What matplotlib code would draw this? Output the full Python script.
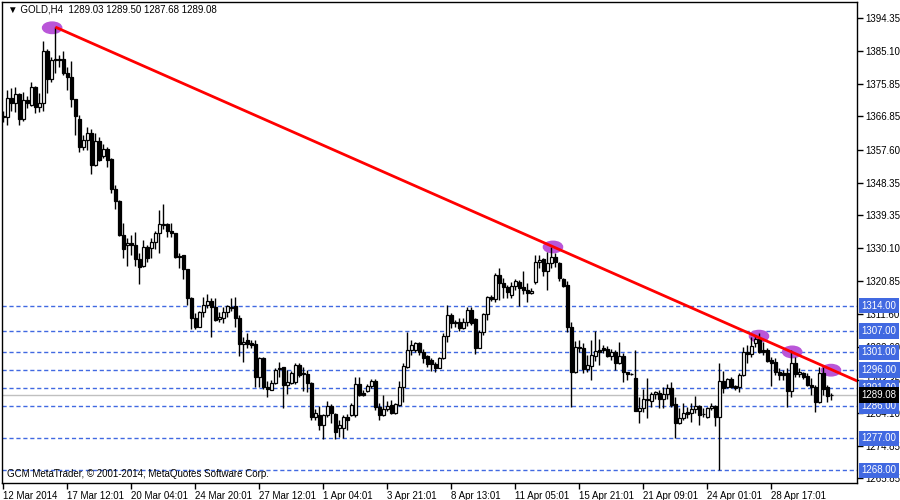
import matplotlib.pyplot as plt
from matplotlib.patches import Ellipse

# GOLD H4 candles (oldest first)
opens = [
    1367.0, 1366.6, 1372.0, 1370.6, 1373.1, 1366.1, 1371.4, 1370.0, 1375.0, 1369.5,
    1370.6, 1385.1, 1377.3, 1382.6, 1382.9, 1382.9, 1379.0, 1377.9, 1371.7, 1366.1,
    1358.3, 1360.3, 1362.2, 1353.3, 1360.0, 1355.8, 1357.8, 1355.0, 1346.6, 1343.2,
    1333.7, 1330.9, 1331.5, 1330.9, 1327.0, 1325.1, 1330.4, 1330.1, 1331.8, 1334.3,
    1336.5, 1336.8, 1334.8, 1334.3, 1327.9, 1328.1, 1324.2, 1316.1, 1310.5, 1308.0,
    1312.2, 1314.2, 1315.3, 1313.6, 1310.3, 1310.5, 1312.2, 1313.6, 1313.9, 1310.5,
    1303.3, 1304.4, 1303.6, 1303.3, 1294.1, 1299.4, 1291.3, 1290.4, 1292.4, 1296.3,
    1296.9, 1291.8, 1292.4, 1292.7, 1297.4, 1295.2, 1294.9, 1292.4, 1282.9, 1283.5,
    1280.7, 1283.5, 1286.0, 1283.8, 1279.8, 1279.8, 1282.9, 1283.5, 1283.5, 1292.1,
    1289.6, 1290.2, 1291.6, 1293.0, 1285.7, 1283.5, 1285.1, 1286.3, 1284.0, 1286.3,
    1291.3, 1296.9, 1301.6, 1301.6, 1303.6, 1301.1, 1300.0, 1298.8, 1297.7, 1296.6,
    1299.4, 1305.5, 1311.4, 1309.4, 1309.4, 1307.8, 1309.4, 1312.8, 1310.3, 1302.2,
    1306.6, 1311.7, 1316.4, 1315.9, 1322.6, 1320.3, 1319.2, 1317.0, 1319.5, 1320.6,
    1319.2, 1318.4, 1317.5, 1320.6, 1326.2, 1327.0, 1323.7, 1325.9, 1327.6, 1325.9,
    1321.4, 1319.8, 1308.0, 1295.5, 1302.5, 1302.2, 1296.3, 1297.1, 1299.9, 1301.6,
    1302.2, 1301.9, 1299.9, 1301.1, 1298.0, 1299.9, 1295.5, 1294.9, 1293.8, 1284.6,
    1285.4, 1287.6, 1287.4, 1289.3, 1289.6, 1287.9, 1289.3, 1291.0, 1286.5, 1281.2,
    1282.6, 1284.3, 1284.0, 1285.1, 1286.0, 1283.8, 1282.9, 1285.4, 1286.0, 1282.9,
    1293.0, 1291.3, 1293.5, 1291.6, 1291.3, 1294.6, 1301.1, 1300.5, 1303.6, 1304.7,
    1301.6, 1301.6, 1298.8, 1298.3, 1295.5, 1295.2, 1295.2, 1290.2, 1298.0, 1294.9,
    1295.2, 1294.3, 1291.8, 1291.3, 1287.1, 1295.2, 1291.3, 1289.03,
]
highs = [
    1368.3, 1374.2, 1374.8, 1375.0, 1373.4, 1373.6, 1372.6, 1376.4, 1375.3, 1373.4,
    1387.9, 1385.7, 1383.4, 1391.8, 1384.0, 1385.1, 1380.7, 1382.3, 1371.7, 1367.2,
    1361.7, 1363.9, 1363.3, 1362.2, 1361.1, 1359.2, 1358.3, 1355.2, 1347.7, 1343.5,
    1337.1, 1332.9, 1333.7, 1334.6, 1328.7, 1332.3, 1330.9, 1332.9, 1334.8, 1340.7,
    1342.4, 1337.1, 1337.1, 1334.3, 1328.7, 1328.1, 1324.2, 1316.4, 1311.9, 1312.5,
    1316.4, 1317.3, 1316.1, 1316.1, 1312.2, 1313.6, 1314.2, 1316.1, 1316.4, 1311.4,
    1305.2, 1306.4, 1304.4, 1304.4, 1299.7, 1299.7, 1293.0, 1293.2, 1296.6, 1298.3,
    1296.9, 1296.0, 1295.7, 1298.0, 1298.0, 1296.9, 1296.0, 1292.7, 1285.1, 1286.0,
    1283.8, 1287.4, 1286.5, 1284.0, 1282.1, 1283.5, 1283.8, 1286.8, 1294.1, 1294.1,
    1290.4, 1292.1, 1293.5, 1293.5, 1286.8, 1289.0, 1287.4, 1287.6, 1286.8, 1293.0,
    1298.0, 1306.6, 1304.4, 1303.8, 1303.8, 1301.9, 1300.2, 1299.4, 1298.3, 1299.7,
    1306.4, 1314.2, 1312.0, 1310.0, 1310.6, 1310.6, 1313.6, 1313.6, 1310.6, 1307.2,
    1312.0, 1316.7, 1317.0, 1323.1, 1324.5, 1321.7, 1319.8, 1320.6, 1321.4, 1321.2,
    1323.7, 1320.3, 1318.9, 1328.1, 1328.1, 1327.3, 1329.0, 1330.4, 1328.7, 1326.2,
    1321.7, 1320.9, 1309.4, 1304.1, 1304.4, 1303.6, 1300.2, 1304.4, 1306.9, 1304.7,
    1303.0, 1302.7, 1301.9, 1301.6, 1303.8, 1300.8, 1295.5, 1295.2, 1301.6, 1288.5,
    1290.7, 1293.8, 1289.9, 1290.2, 1290.4, 1291.3, 1292.1, 1292.7, 1288.5, 1285.4,
    1286.8, 1285.7, 1286.8, 1288.8, 1286.3, 1285.4, 1285.7, 1286.8, 1286.3, 1298.0,
    1295.7, 1293.8, 1294.1, 1291.8, 1295.2, 1302.5, 1303.0, 1305.2, 1305.8, 1306.4,
    1303.8, 1302.2, 1299.7, 1299.4, 1296.6, 1296.0, 1296.6, 1301.6, 1299.7, 1296.6,
    1295.5, 1295.2, 1293.8, 1291.8, 1296.9, 1296.9, 1291.8, 1289.50,
]
lows = [
    1365.3, 1364.5, 1368.3, 1368.1, 1364.5, 1365.6, 1369.2, 1369.7, 1367.8, 1368.1,
    1368.3, 1373.4, 1376.4, 1379.0, 1380.7, 1378.4, 1374.2, 1369.5, 1361.7, 1356.9,
    1357.5, 1357.5, 1350.8, 1353.0, 1354.4, 1355.2, 1352.7, 1345.5, 1341.0, 1333.4,
    1327.3, 1325.1, 1328.1, 1325.1, 1320.1, 1324.8, 1326.2, 1327.3, 1329.8, 1328.7,
    1335.4, 1333.2, 1333.2, 1327.3, 1324.5, 1321.4, 1314.2, 1307.5, 1307.5, 1308.0,
    1310.8, 1313.3, 1305.2, 1309.7, 1309.4, 1309.1, 1310.8, 1312.5, 1308.0, 1300.0,
    1298.3, 1302.2, 1302.2, 1291.3, 1291.3, 1290.7, 1288.5, 1290.4, 1292.1, 1294.1,
    1285.4, 1289.3, 1292.1, 1292.1, 1294.1, 1290.2, 1289.9, 1282.1, 1282.1, 1279.3,
    1276.8, 1282.9, 1281.2, 1276.8, 1277.3, 1277.0, 1279.3, 1283.2, 1282.9, 1288.8,
    1288.8, 1289.9, 1291.0, 1284.9, 1282.1, 1283.2, 1284.6, 1283.8, 1283.8, 1286.0,
    1287.1, 1296.6, 1300.2, 1301.1, 1300.2, 1298.0, 1296.9, 1295.7, 1295.5, 1296.6,
    1299.1, 1303.8, 1307.8, 1308.0, 1306.9, 1307.5, 1308.3, 1308.6, 1300.5, 1302.2,
    1305.8, 1310.0, 1315.3, 1315.0, 1315.6, 1316.1, 1316.1, 1316.1, 1318.4, 1313.9,
    1317.3, 1315.0, 1317.3, 1320.1, 1324.5, 1322.3, 1318.4, 1324.5, 1324.8, 1320.9,
    1319.2, 1306.6, 1285.7, 1295.2, 1301.1, 1295.2, 1295.5, 1293.2, 1298.5, 1297.4,
    1300.8, 1299.7, 1298.8, 1296.0, 1297.7, 1292.7, 1293.2, 1294.6, 1284.6, 1281.2,
    1284.3, 1282.6, 1285.7, 1288.0, 1285.4, 1285.4, 1288.0, 1285.7, 1277.0, 1281.0,
    1282.1, 1282.6, 1281.5, 1284.0, 1280.7, 1282.9, 1282.6, 1284.9, 1280.4, 1268.1,
    1289.6, 1291.0, 1291.0, 1290.4, 1289.9, 1294.3, 1298.0, 1299.7, 1302.5, 1300.8,
    1300.2, 1298.3, 1291.6, 1294.6, 1293.2, 1293.2, 1285.7, 1288.5, 1294.1, 1294.1,
    1293.5, 1291.6, 1289.0, 1284.3, 1286.8, 1289.0, 1287.1, 1287.68,
]
closes = [
    1366.8, 1372.0, 1370.6, 1373.1, 1366.1, 1371.4, 1370.6, 1375.0, 1369.5, 1370.6,
    1385.1, 1377.3, 1382.6, 1382.9, 1382.6, 1379.0, 1377.9, 1371.7, 1367.0, 1358.3,
    1360.3, 1362.2, 1353.3, 1360.0, 1354.7, 1357.8, 1354.7, 1346.6, 1343.2, 1333.7,
    1329.8, 1331.5, 1330.9, 1327.0, 1324.8, 1330.4, 1327.3, 1331.8, 1334.3, 1336.8,
    1336.8, 1334.8, 1334.3, 1327.6, 1327.6, 1324.2, 1316.1, 1310.5, 1308.0, 1312.2,
    1314.2, 1315.3, 1313.6, 1310.0, 1310.8, 1312.2, 1313.9, 1313.5, 1310.5, 1303.3,
    1303.8, 1303.3, 1303.0, 1294.1, 1299.4, 1291.3, 1290.7, 1292.4, 1296.0, 1296.6,
    1291.8, 1292.7, 1295.2, 1297.4, 1294.6, 1294.9, 1292.4, 1282.9, 1284.0, 1280.7,
    1283.5, 1286.0, 1284.0, 1278.7, 1280.7, 1282.9, 1282.1, 1286.3, 1292.1, 1289.0,
    1289.0, 1291.6, 1293.0, 1285.7, 1283.5, 1285.1, 1286.0, 1284.0, 1286.5, 1291.3,
    1297.1, 1301.6, 1303.0, 1303.6, 1301.1, 1299.4, 1297.7, 1297.7, 1296.6, 1299.4,
    1305.5, 1311.4, 1309.2, 1309.2, 1307.8, 1309.4, 1312.8, 1309.2, 1302.2, 1306.6,
    1311.7, 1316.4, 1315.9, 1322.6, 1320.3, 1319.2, 1317.8, 1319.5, 1320.9, 1318.9,
    1318.4, 1317.5, 1318.1, 1326.2, 1326.8, 1323.7, 1325.9, 1327.6, 1326.2, 1321.7,
    1319.5, 1308.0, 1295.5, 1302.5, 1302.2, 1296.3, 1297.4, 1300.2, 1301.3, 1301.1,
    1301.6, 1299.9, 1301.1, 1298.0, 1299.9, 1295.5, 1294.9, 1294.8, 1284.6, 1285.4,
    1287.9, 1287.9, 1289.3, 1289.9, 1287.9, 1289.3, 1291.0, 1286.3, 1281.2, 1282.6,
    1284.0, 1283.8, 1285.1, 1286.0, 1283.5, 1283.7, 1285.4, 1286.0, 1282.9, 1293.0,
    1291.0, 1293.5, 1291.3, 1291.0, 1294.6, 1301.1, 1300.5, 1302.7, 1304.7, 1301.1,
    1301.1, 1298.5, 1298.0, 1295.5, 1294.6, 1294.6, 1290.2, 1298.0, 1294.9, 1295.5,
    1294.1, 1291.8, 1291.3, 1287.1, 1295.2, 1290.7, 1288.8, 1289.08,
]

levels = [1314.00, 1307.00, 1301.00, 1296.00, 1291.00, 1286.00, 1277.00, 1268.00]
bid = 1289.08
price_ticks = [1394.35, 1385.10, 1375.85, 1366.85, 1357.60, 1348.35, 1339.35, 1330.10,
               1320.85, 1311.60, 1302.60, 1293.35, 1284.10, 1274.85, 1265.85]
time_labels = ["12 Mar 2014", "17 Mar 12:01", "20 Mar 04:01", "24 Mar 20:01",
               "27 Mar 12:01", "1 Apr 04:01", "3 Apr 21:01", "8 Apr 13:01",
               "11 Apr 05:01", "15 Apr 21:01", "21 Apr 09:01", "24 Apr 01:01",
               "28 Apr 17:01"]
time_step = 16  # bars between time labels

trend_idx = [13, 197]
trend_px = [1391.8, 1301.1]
touch_idx = [12.2, 137.4, 188.9, 197.2, 206.9]
touch_px = [1391.6, 1330.4, 1305.5, 1301.1, 1296.0]

plt.rcParams['font.family'] = ['Liberation Sans', 'DejaVu Sans']
fs = 7
level_color = '#4169E1'

fig = plt.figure(figsize=(9, 5), dpi=100)
ax = fig.add_axes([2 / 900, 17 / 500, 855 / 900, 481 / 500])

n = len(opens)
xs = list(range(n))

# wicks then bodies
ax.vlines(xs, lows, highs, color='black', lw=1, zorder=3)
for i in xs:
    o, c = opens[i], closes[i]
    bottom = min(o, c)
    height = max(abs(c - o), 0.05)
    face = 'white' if c >= o else 'black'
    ax.bar(i, height, bottom=bottom, width=0.6, color=face,
           edgecolor='black', linewidth=0.9, zorder=3.5)

# horizontal levels
for lv in levels:
    ax.axhline(lv, color=level_color, lw=1, ls=(0, (3, 2)), zorder=1)
ax.axhline(bid, color='#C0C0C0', lw=1, zorder=1)

# touch markers and trendline ray
for xi, yi in zip(touch_idx, touch_px):
    ax.add_patch(Ellipse((xi, yi), 4.8, 3.2, color='#B956D8', zorder=2))
slope = (trend_px[1] - trend_px[0]) / (trend_idx[1] - trend_idx[0])
x_end = 214
ax.plot([trend_idx[0], x_end], [trend_px[0], trend_px[0] + slope * (x_end - trend_idx[0])],
        color='red', lw=2, zorder=5, solid_capstyle='butt')

ax.set_xlim(-0.33, 213.4)
ax.set_ylim(1264.5, 1398.8)

ax.yaxis.tick_right()
ax.set_yticks(price_ticks)
ax.set_yticklabels([f"{p:.2f}" for p in price_ticks])
ax.tick_params(axis='y', length=4, width=1, pad=2, labelsize=fs, direction='out')

ax.set_xticks([k * time_step for k in range(len(time_labels))])
ax.set_xticklabels(time_labels, ha='left')
ax.tick_params(axis='x', length=4, width=1, pad=2, labelsize=fs, direction='out')

for s in ax.spines.values():
    s.set_linewidth(1)
    s.set_color('black')

trans = ax.get_yaxis_transform()
for lv in levels:
    ax.text(1.0055, lv, f"{lv:.2f}", transform=trans, va='center', ha='left',
            fontsize=fs, color='white', clip_on=False, zorder=6,
            bbox=dict(boxstyle='square,pad=0.28', fc=level_color, ec='none'))
ax.text(1.0055, bid, f"{bid:.2f}", transform=trans, va='center', ha='left',
        fontsize=fs, color='white', clip_on=False, zorder=6,
        bbox=dict(boxstyle='square,pad=0.28', fc='black', ec='none'))

fig.text(8 / 900, 1 - 10 / 500,
         "\u25BC GOLD,H4  1289.03 1289.50 1287.68 1289.08",
         fontsize=fs, va='center', ha='left')
fig.text(7 / 900, 1 - 474 / 500,
         "GCM MetaTrader, \u00a9 2001-2014, MetaQuotes Software Corp.",
         fontsize=fs, va='center', ha='left')

fig.savefig("out.png", dpi=100)
